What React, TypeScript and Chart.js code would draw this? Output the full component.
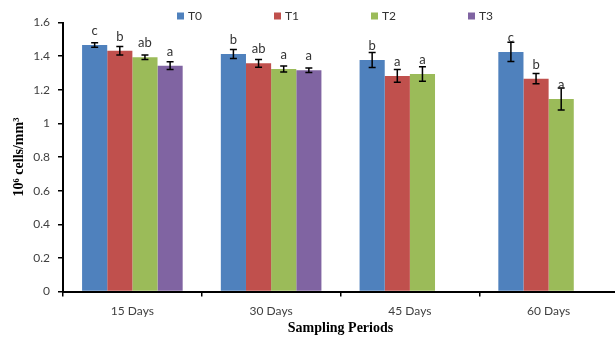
import React, { useEffect, useRef } from "react";
import { Chart, registerables } from "chart.js";

Chart.register(...registerables);

const categories = ["15 Days", "30 Days", "45 Days", "60 Days"];
const seriesNames = ["T0", "T1", "T2", "T3"];
const seriesColors = ["#4F81BD", "#C0504D", "#9BBB59", "#8064A2"];

const t0Values = [1.466, 1.413, 1.377, 1.425];
const t1Values = [1.432, 1.357, 1.282, 1.266];
const t2Values = [1.393, 1.324, 1.294, 1.145];
const t3Values = [1.343, 1.316, null, null];

const t0Errors = [0.013, 0.027, 0.045, 0.057];
const t1Errors = [0.025, 0.023, 0.038, 0.031];
const t2Errors = [0.013, 0.018, 0.043, 0.065];
const t3Errors = [0.023, 0.014, null, null];

const t0Letters = ["c", "b", "b", "c"];
const t1Letters = ["b", "ab", "a", "b"];
const t2Letters = ["ab", "a", "a", "a"];
const t3Letters = ["a", "a", null, null];

const yTickLabels = ["0", "0.2", "0.4", "0.6", "0.8", "1", "1.2", "1.4", "1.6"];
const yTitle = "10⁶ cells/mm³";
const xTitle = "Sampling Periods";

const allValues = [t0Values, t1Values, t2Values, t3Values];
const allErrors = [t0Errors, t1Errors, t2Errors, t3Errors];
const allLetters = [t0Letters, t1Letters, t2Letters, t3Letters];

const TICK_FONT = "Lato, 'Open Sans', sans-serif";
const TITLE_FONT = "'Liberation Serif', 'Times New Roman', serif";

const errorBarPlugin = {
  id: "errorBars",
  afterDatasetsDraw(chart: any) {
    const ctx = chart.ctx;
    const yScale = chart.scales.y;
    ctx.save();
    chart.data.datasets.forEach((ds: any, di: number) => {
      const meta = chart.getDatasetMeta(di);
      const errs = allErrors[di];
      const letters = allLetters[di];
      meta.data.forEach((el: any, i: number) => {
        const v = ds.data[i];
        if (v === null || v === undefined) return;
        const e = errs[i];
        const x = el.x;
        if (e !== null && e !== undefined) {
          const yTop = yScale.getPixelForValue(v + e);
          const yBot = yScale.getPixelForValue(v - e);
          ctx.strokeStyle = "#000";
          ctx.lineWidth = 1.5;
          ctx.beginPath();
          ctx.moveTo(x, yTop);
          ctx.lineTo(x, yBot);
          ctx.moveTo(x - 3.5, yTop);
          ctx.lineTo(x + 3.5, yTop);
          ctx.moveTo(x - 3.5, yBot);
          ctx.lineTo(x + 3.5, yBot);
          ctx.stroke();
        }
        const letter = letters[i];
        if (letter) {
          ctx.fillStyle = "#333";
          ctx.font = `13px ${TICK_FONT}`;
          ctx.textAlign = "center";
          ctx.textBaseline = "alphabetic";
          ctx.fillText(letter, x, el.y - 10);
        }
      });
    });
    ctx.restore();
  },
};

const legendPlugin = {
  id: "customLegend",
  afterDraw(chart: any) {
    const ctx = chart.ctx;
    ctx.save();
    const startX = 177;
    const spacing = 97;
    const cy = 16;
    chart.data.datasets.forEach((ds: any, i: number) => {
      const x = startX + i * spacing;
      ctx.fillStyle = ds.backgroundColor;
      ctx.fillRect(x, cy - 3.5, 7, 7);
      ctx.fillStyle = "#333";
      ctx.font = `12px ${TICK_FONT}`;
      ctx.textAlign = "left";
      ctx.textBaseline = "middle";
      ctx.fillText(ds.label, x + 11, cy);
    });
    ctx.restore();
  },
};

export default function App() {
  const canvasRef = useRef<HTMLCanvasElement | null>(null);

  useEffect(() => {
    if (!canvasRef.current) return;
    const chart = new Chart(canvasRef.current, {
      type: "bar",
      data: {
        labels: categories,
        datasets: seriesNames.map((name, i) => ({
          label: name,
          data: allValues[i],
          backgroundColor: seriesColors[i],
          borderWidth: 0,
          categoryPercentage: 0.725,
          barPercentage: 1.0,
        })),
      },
      options: {
        animation: false,
        responsive: false,
        devicePixelRatio: 1,
        layout: { padding: { top: 22.5, left: 0, right: 0, bottom: 0 } },
        plugins: {
          legend: { display: false },
          tooltip: { enabled: false },
        },
        scales: {
          x: {
            offset: true,
            grid: {
              offset: true,
              drawOnChartArea: false,
              drawTicks: true,
              tickLength: 5,
              tickColor: "#000",
              lineWidth: 1.5,
            },
            border: { display: true, color: "#000", width: 2 },
            ticks: {
              color: "#404040",
              font: { family: TICK_FONT, size: 12 },
              padding: 7,
              maxRotation: 0,
            },
            title: {
              display: true,
              text: xTitle,
              color: "#000",
              font: { family: TITLE_FONT, size: 14, weight: "bold" },
              padding: { top: 0, bottom: 1 },
            },
            afterFit: (scale: any) => {
              scale.height = 46.5;
            },
          },
          y: {
            min: 0,
            max: 1.6,
            grid: {
              drawOnChartArea: false,
              drawTicks: true,
              tickLength: 5,
              tickColor: "#000",
              lineWidth: 1.5,
            },
            border: { display: true, color: "#000", width: 2 },
            ticks: {
              stepSize: 0.2,
              color: "#404040",
              font: { family: TICK_FONT, size: 12 },
              padding: 8,
              callback: (_v: any, idx: number) => yTickLabels[idx],
            },
            title: {
              display: true,
              text: yTitle,
              color: "#000",
              font: { family: TITLE_FONT, size: 14, weight: "bold" },
              padding: { top: 10.6, bottom: 0 },
            },
            afterFit: (scale: any) => {
              scale.width = 63;
            },
          },
        },
      } as any,
      plugins: [errorBarPlugin, legendPlugin],
    });
    return () => chart.destroy();
  }, []);

  return (
    <div style={{ position: "fixed", left: 0, top: 0, width: 618, height: 338, background: "#fff" }}>
      <canvas ref={canvasRef} width={618} height={338} style={{ display: "block" }} />
    </div>
  );
}
